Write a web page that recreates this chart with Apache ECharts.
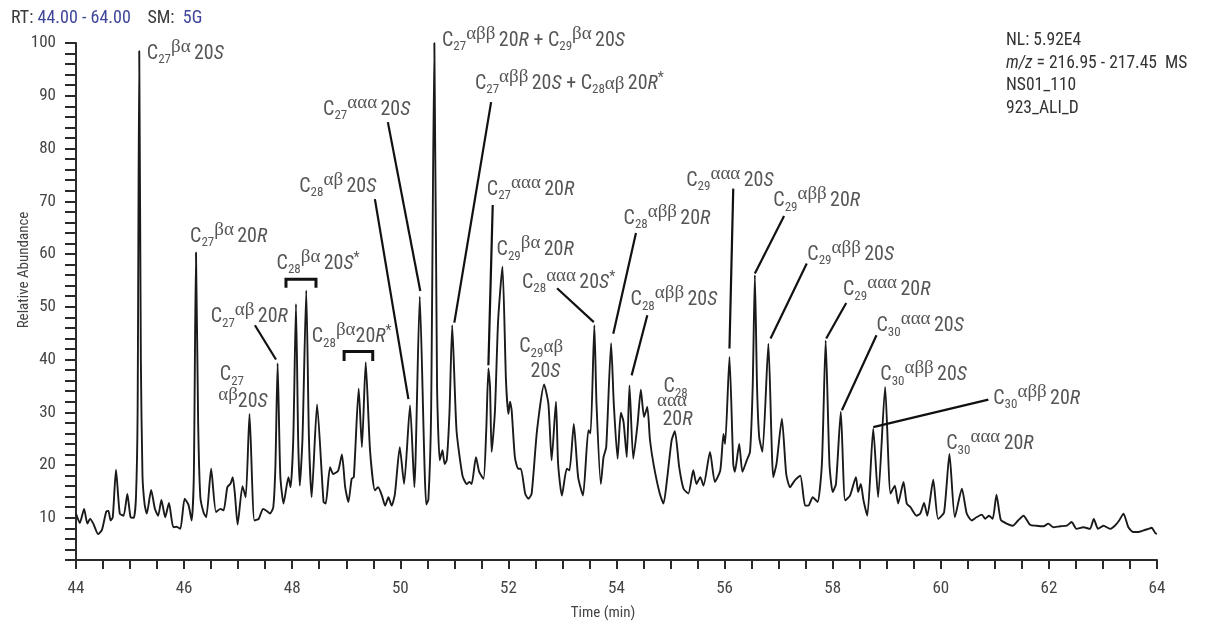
<!DOCTYPE html>
<html>
<head>
<meta charset="utf-8">
<script src="https://cdn.jsdelivr.net/npm/echarts/dist/echarts.min.js"></script>
<style>
  html, body { margin: 0; padding: 0; background: #fff; }
  #chart { width: 1210px; height: 623px; }
</style>
</head>
<body>
<div id="chart"></div>
<script>
  // m/z 217 trace, [time (min), relative abundance %]
  const trace = [
    [44.00,10.8],[44.07,9.0],[44.15,11.7],[44.21,8.9],[44.26,9.8],[44.32,8.9],[44.41,6.9],[44.48,7.7],
    [44.56,11.2],[44.60,11.3],[44.64,9.5],[44.68,10.1],[44.74,19.1],[44.81,10.8],[44.88,10.4],[44.95,14.5],
    [45.01,10.1],[45.07,10.0],[45.11,14],[45.14,30],[45.17,98.5],[45.20,40],[45.23,18],[45.27,12.5],
    [45.31,10.8],[45.39,15.3],[45.46,11.7],[45.52,10.4],[45.58,13.4],[45.65,10.1],[45.72,12.8],[45.80,8.2],
    [45.86,8.3],[45.93,7.9],[46.01,13.6],[46.08,12.5],[46.14,9.5],[46.18,18],[46.22,60.3],[46.26,28],
    [46.30,14],[46.36,11],[46.41,10.1],[46.50,19.3],[46.59,11.1],[46.67,11.7],[46.73,11.4],[46.80,15.8],
    [46.86,16.5],[46.90,17.7],[46.94,14.5],[46.99,8.7],[47.08,16.0],[47.14,13.9],[47.21,29.7],[47.30,9.5],
    [47.38,9.8],[47.46,11.7],[47.53,11.3],[47.59,10.8],[47.65,12.0],[47.69,20],[47.73,39.3],[47.78,18],
    [47.84,12.7],[47.93,17.7],[47.97,15.8],[48.02,25],[48.07,50.5],[48.11,25],[48.14,16.1],[48.19,25],
    [48.26,53.1],[48.31,25],[48.36,13.9],[48.46,31.5],[48.58,13.0],[48.62,12.7],[48.70,19.6],[48.76,18.3],
    [48.85,18.9],[48.92,22.0],[48.98,15.8],[49.04,13.0],[49.10,17.4],[49.14,17.7],[49.23,34.5],[49.29,23.4],
    [49.36,39.5],[49.44,22.8],[49.53,15.2],[49.59,15.8],[49.66,14.2],[49.72,12.3],[49.78,13.9],[49.84,12.3],
    [49.90,14.5],[49.99,23.4],[50.07,16.4],[50.18,31.3],[50.26,15.8],[50.36,51.9],[50.48,12.5],[50.52,13.5],
    [50.57,30],[50.63,100],[50.68,35],[50.73,20.9],[50.78,22.8],[50.82,20.2],[50.86,21],[50.91,30],
    [50.96,46.5],[51.04,26.6],[51.15,18.0],[51.23,16.4],[51.28,16.8],[51.32,16.4],[51.40,21.5],[51.46,18.7],
    [51.54,17.4],[51.59,26.6],[51.63,38.3],[51.66,34.8],[51.69,22.5],[51.75,30],[51.81,47.4],[51.89,57.6],
    [51.955,36.1],[52.00,29.7],[52.03,32.0],[52.06,30.4],[52.12,21.5],[52.18,19.3],[52.23,19.3],[52.31,14.6],
    [52.37,13.6],[52.43,14.6],[52.53,26.6],[52.66,35.3],[52.74,31.6],[52.80,20.9],[52.88,32.0],[52.92,20.2],
    [52.99,14.2],[53.08,19.3],[53.13,19.0],[53.21,27.8],[53.29,17.7],[53.38,14.2],[53.48,26.6],[53.52,26],
    [53.59,46.5],[53.63,31.6],[53.71,16.4],[53.76,21.5],[53.81,23.4],[53.90,43.1],[53.95,31.6],[54.02,21.2],
    [54.08,29.9],[54.13,28.2],[54.19,21.5],[54.24,35.1],[54.31,21.2],[54.39,27.8],[54.45,34.3],[54.51,29.1],
    [54.57,31.0],[54.62,24.7],[54.69,19.9],[54.80,14.6],[54.87,12.7],[54.94,17.7],[55.02,24.7],[55.08,26.4],
    [55.16,19.6],[55.24,15.5],[55.33,14.6],[55.42,19.0],[55.48,16.4],[55.55,17.7],[55.61,16.1],[55.73,22.5],
    [55.82,16.8],[55.92,19.0],[55.98,25.9],[56.01,24.0],[56.09,40.5],[56.16,20.2],[56.19,18.7],[56.27,24.0],
    [56.33,18.7],[56.41,20.9],[56.47,22.5],[56.52,35],[56.56,56.0],[56.60,35],[56.64,25.3],[56.70,22.5],
    [56.81,43.0],[56.90,17.7],[56.96,20.2],[57.06,28.8],[57.14,18.3],[57.21,15.8],[57.30,17.1],[57.40,18.0],
    [57.49,12.3],[57.55,12.3],[57.63,13.9],[57.72,13.0],[57.80,20.2],[57.87,43.6],[57.94,20.2],[58.00,14.9],
    [58.06,16.4],[58.15,30.1],[58.23,13.3],[58.32,14.2],[58.43,17.7],[58.47,14.9],[58.52,16.4],[58.57,13.3],
    [58.64,10.4],[58.75,26.9],[58.84,13.9],[58.97,34.8],[59.07,14.6],[59.15,16.1],[59.21,12.7],[59.31,16.8],
    [59.37,12.7],[59.44,12.0],[59.55,10.4],[59.62,10.8],[59.69,12.8],[59.75,10.4],[59.86,17.2],[59.95,9.8],
    [60.06,11.0],[60.16,22.1],[60.26,10.1],[60.39,15.5],[60.48,10.8],[60.57,9.5],[60.66,10.1],[60.76,10.6],
    [60.82,9.8],[60.89,10.4],[60.96,9.8],[61.03,14.4],[61.11,9.6],[61.22,8.9],[61.33,8.5],[61.43,9.5],
    [61.53,10.4],[61.65,8.7],[61.77,8.5],[61.90,8.4],[61.99,8.9],[62.08,8.2],[62.21,8.4],[62.33,8.5],
    [62.42,9.2],[62.51,7.9],[62.64,8.2],[62.76,7.9],[62.83,9.8],[62.91,7.9],[63.01,8.5],[63.13,7.9],
    [63.22,8.5],[63.30,9.5],[63.38,10.8],[63.47,8.2],[63.56,7.3],[63.65,7.3],[63.75,7.6],[63.84,7.9],
    [63.90,8.1],[63.98,7.0],[64.00,7.0]
  ];

  // peak names: [time, abundance] of the label's left edge, then the rich text
  const peakLabels = [
    [45.31, 97.9, '{t|C}{s|27}{g|βα} {t|20}{i|S}'],
    [50.77, 100.4, '{t|C}{s|27}{g|αββ} {t|20}{i|R}{t| + C}{s|29}{g|βα} {t|20}{i|S}'],
    [51.38, 92.2, '{t|C}{s|27}{g|αββ} {t|20}{i|S}{t| + C}{s|28}{n|αβ} {t|20}{i|R}{a|*}'],
    [48.57, 87.3, '{t|C}{s|27}{g|ααα} {t|20}{i|S}'],
    [48.13, 72.7, '{t|C}{s|28}{g|αβ} {t|20}{i|S}'],
    [46.11, 63.2, '{t|C}{s|27}{g|βα} {t|20}{i|R}'],
    [47.71, 58.1, '{t|C}{s|28}{g|βα} {t|20}{i|S}{a|*}'],
    [46.49, 48.0, '{t|C}{s|27}{g|αβ} {t|20}{i|R}'],
    [48.36, 44.2, '{t|C}{s|28}{g|βα}{t|20}{i|R}{a|*}'],
    [46.66, 37.0, '{t|C}{s|27}'],
    [46.63, 31.9, '{g|αβ}{t|20}{i|S}'],
    [51.60, 72.1, '{t|C}{s|27}{g|ααα} {t|20}{i|R}'],
    [51.78, 60.7, '{t|C}{s|29}{g|βα} {t|20}{i|R}'],
    [52.25, 54.5, '{t|C}{s|28}{g|ααα} {t|20}{i|S}{a|*}'],
    [54.13, 66.6, '{t|C}{s|28}{g|αββ} {t|20}{i|R}'],
    [54.26, 51.2, '{t|C}{s|28}{g|αββ} {t|20}{i|S}'],
    [52.20, 42.3, '{t|C}{s|29}{n|αβ}'],
    [52.41, 37.6, '{t|20}{i|S}'],
    [54.87, 34.7, '{t|C}{s|28}'],
    [54.75, 32.2, '{n|ααα}'],
    [54.85, 28.5, '{t|20}{i|R}'],
    [55.29, 73.8, '{t|C}{s|29}{g|ααα} {t|20}{i|S}'],
    [56.90, 70.0, '{t|C}{s|29}{g|αββ} {t|20}{i|R}'],
    [57.53, 59.8, '{t|C}{s|29}{g|αββ} {t|20}{i|S}'],
    [58.19, 53.1, '{t|C}{s|29}{g|ααα} {t|20}{i|R}'],
    [58.81, 46.3, '{t|C}{s|30}{g|ααα} {t|20}{i|S}'],
    [58.88, 37.0, '{t|C}{s|30}{g|αββ} {t|20}{i|S}'],
    [60.97, 32.6, '{t|C}{s|30}{g|αββ} {t|20}{i|R}'],
    [60.10, 23.9, '{t|C}{s|30}{g|ααα} {t|20}{i|R}']
  ];

  // leader lines from a label to its peak
  const leaderLines = [
    [[51.68, 88.8], [51.00, 47.0]],
    [[49.77, 85.0], [50.37, 53.0]],
    [[49.53, 70.4], [50.15, 32.5]],
    [[47.31, 46.5], [47.70, 40.0]],
    [[51.71, 69.3], [51.63, 38.9]],
    [[52.90, 53.5], [53.58, 47.1]],
    [[54.36, 64.0], [53.94, 44.9]],
    [[54.57, 48.4], [54.28, 37.0]],
    [[56.16, 72.4], [56.09, 42.1]],
    [[57.10, 67.2], [56.56, 56.3]],
    [[57.52, 58.2], [56.85, 44.0]],
    [[58.25, 50.7], [57.88, 44.0]],
    [[58.81, 44.6], [58.17, 30.4]],
    [[60.88, 32.4], [58.75, 27.2]]
  ];

  // brackets over the C28 βα pairs
  const brackets = [
    [[47.885, 53.6], [47.885, 55.2], [48.44, 55.2], [48.44, 53.6]],
    [[48.96, 39.7], [48.96, 41.5], [49.49, 41.5], [49.49, 39.7]]
  ];

  const SANS = "'Liberation Sans Narrow', 'Arial Narrow', 'Roboto Condensed', 'DejaVu Sans Condensed', sans-serif";
  const SERIF = "'Liberation Serif', 'DejaVu Serif', serif";
  const INK = '#2a2a2a';
  const BLUE = '#3f4699';

  // middle-aligned tokens are shifted by (padTop - padBottom) / 2
  const labelRich = {
    t: { fontSize: 20, fontFamily: SANS, color: INK, lineHeight: 26 },
    i: { fontSize: 20, fontFamily: SANS, color: INK, lineHeight: 26, fontStyle: 'italic' },
    s: { fontSize: 13, fontFamily: SANS, color: INK, lineHeight: 26, padding: [12, 0, 0, 0] },
    g: { fontSize: 19, fontFamily: SERIF, color: INK, lineHeight: 26, padding: [0, 0, 14, 0] },
    n: { fontSize: 19, fontFamily: SERIF, color: INK, lineHeight: 26 },
    a: { fontSize: 14, fontFamily: SANS, color: INK, lineHeight: 26, padding: [0, 0, 12, 0] }
  };

  const chart = echarts.init(document.getElementById('chart'));

  chart.setOption({
    animation: false,
    backgroundColor: '#fff',
    grid: { left: 76, right: 53, top: 43, bottom: 63 },
    xAxis: {
      type: 'value',
      min: 44,
      max: 64,
      interval: 0.5,
      splitLine: { show: false },
      axisLine: { show: true, lineStyle: { color: INK, width: 2 } },
      axisTick: { show: true, length: 9, lineStyle: { color: INK, width: 2 } },
      axisLabel: {
        margin: 20,
        fontSize: 17,
        fontFamily: SANS,
        color: '#444',
        formatter: v => (v % 2 === 0 ? String(v) : '')
      }
    },
    yAxis: {
      type: 'value',
      min: 2,
      max: 100,
      interval: 2,
      splitLine: { show: false },
      axisLine: { show: true, lineStyle: { color: INK, width: 2 } },
      axisTick: { show: true, length: 11, lineStyle: { color: INK, width: 2 } },
      axisLabel: {
        margin: 20,
        fontSize: 17,
        fontFamily: SANS,
        color: '#444',
        formatter: v => (v % 10 === 0 ? String(v) : '')
      }
    },
    series: [
      {
        type: 'line',
        data: trace,
        showSymbol: false,
        smooth: 0.2,
        clip: false,
        lineStyle: { color: '#1a1a1a', width: 1.9 },
        z: 2
      },
      {
        type: 'lines',
        coordinateSystem: 'cartesian2d',
        polyline: true,
        silent: true,
        lineStyle: { color: '#111', width: 2.2, opacity: 1 },
        data: leaderLines.map(c => ({ coords: c })),
        z: 3
      },
      {
        type: 'lines',
        coordinateSystem: 'cartesian2d',
        polyline: true,
        silent: true,
        lineStyle: { color: '#111', width: 3, opacity: 1 },
        data: brackets.map(c => ({ coords: c })),
        z: 3
      },
      {
        type: 'scatter',
        symbolSize: 0.1,
        clip: false,
        silent: true,
        itemStyle: { color: 'transparent' },
        data: peakLabels.map(p => ({ value: [p[0], p[1]], name: p[2] })),
        label: {
          show: true,
          position: 'right',
          distance: 0,
          align: 'left',
          verticalAlign: 'middle',
          formatter: p => p.name,
          rich: labelRich
        },
        z: 4
      }
    ],
    graphic: [
      {
        type: 'text',
        left: 11,
        top: 9,
        style: {
          text: '{g|RT: }{b|44.00 - 64.00}{g|    SM:  }{b|5G}',
          rich: {
            g: { fontSize: 18, fontFamily: SANS, fill: '#3a3a3a' },
            b: { fontSize: 18, fontFamily: SANS, fill: BLUE }
          }
        }
      },
      {
        type: 'text',
        left: 1006,
        top: 32,
        style: {
          text: '{r|NL: 5.92E4}\n{i|m/z}{r| = 216.95 - 217.45  MS}\n{r|NS01_110}\n{r|923_ALI_D}',
          rich: {
            r: { fontSize: 17.5, fontFamily: SANS, fill: '#333', lineHeight: 22.5 },
            i: { fontSize: 17.5, fontFamily: SANS, fill: '#333', lineHeight: 22.5, fontStyle: 'italic' }
          }
        }
      },
      {
        type: 'text',
        x: 24,
        y: 270,
        rotation: Math.PI / 2,
        style: {
          text: 'Relative Abundance',
          fontSize: 15,
          fontFamily: SANS,
          fill: '#444',
          align: 'center',
          verticalAlign: 'middle'
        }
      },
      {
        type: 'text',
        x: 603,
        y: 613,
        style: {
          text: 'Time (min)',
          fontSize: 15,
          fontFamily: SANS,
          fill: '#444',
          align: 'center',
          verticalAlign: 'middle'
        }
      }
    ]
  });
</script>
</body>
</html>
